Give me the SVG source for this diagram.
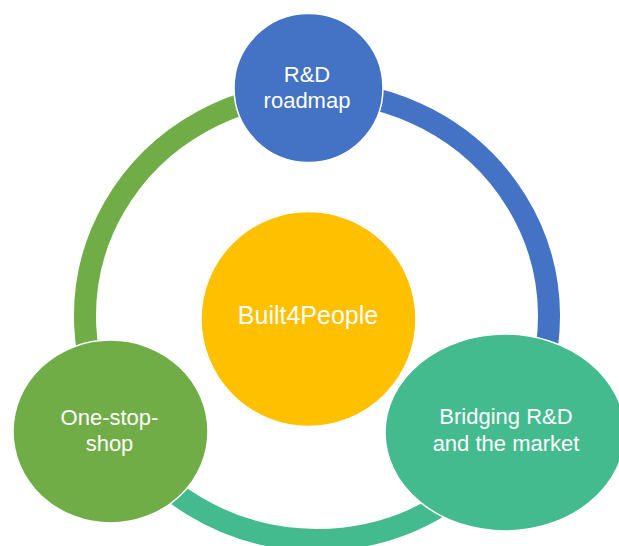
<svg xmlns="http://www.w3.org/2000/svg" width="619" height="546" viewBox="0 0 619 546">
<style>
.arc{fill:none;stroke-width:22;stroke-linecap:butt}
.node{stroke:#FFFFFF;stroke-width:1.5}
.lbl{font-family:"Liberation Sans","Open Sans",Arial,sans-serif;font-size:22px;fill:#FFFFFF;text-anchor:middle}
</style>
<rect width="619" height="546" fill="#FFFFFF"/>
<g id="connectors">
<path class="arc" stroke="#4472C4" d="M 308.9,92.1 A 232 224 0 0 1 517.9,428"/>
<path class="arc" stroke="#44BB8E" d="M 517.9,428 A 232 224 0 0 1 116.1,428"/>
<path class="arc" stroke="#70AD47" d="M 116.1,428 A 232 224 0 0 1 308.9,92.1"/>
</g>
<g id="center">
<circle class="node" cx="308.5" cy="319" r="107.5" fill="#FFC000"/>
<text class="lbl" x="308" y="324" style="font-size:25px">Built4People</text>
</g>
<g id="rd-roadmap">
<circle class="node" cx="308.5" cy="88" r="74.5" fill="#4472C4"/>
<text class="lbl" x="307" y="82">R&amp;D</text>
<text class="lbl" x="307" y="108">roadmap</text>
</g>
<g id="bridging">
<ellipse class="node" cx="505" cy="432.5" rx="120" ry="98.5" fill="#44BB8E"/>
<text class="lbl" x="506" y="424">Bridging R&amp;D</text>
<text class="lbl" x="506" y="451">and the market</text>
</g>
<g id="one-stop-shop">
<ellipse class="node" cx="110.5" cy="431.5" rx="97.5" ry="91.5" fill="#70AD47"/>
<text class="lbl" x="109.5" y="425">One-stop-</text>
<text class="lbl" x="109.5" y="451">shop</text>
</g>
</svg>
